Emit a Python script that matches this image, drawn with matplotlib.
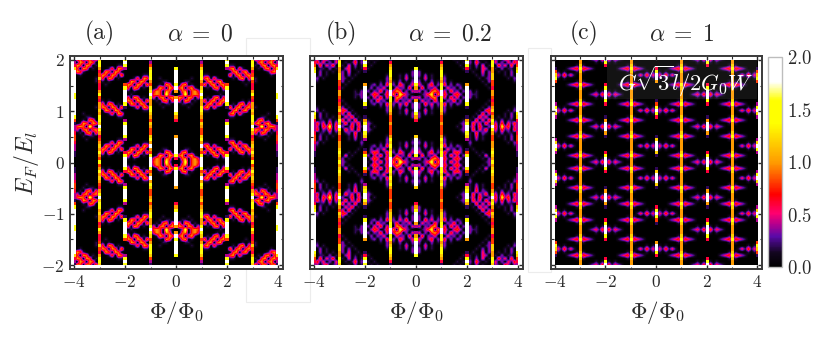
import numpy as np
import matplotlib
matplotlib.use("Agg")
import matplotlib.pyplot as plt
from matplotlib.colors import LinearSegmentedColormap
from matplotlib.patches import Rectangle
from matplotlib.ticker import MultipleLocator, FixedLocator, FixedFormatter

plt.rcParams['mathtext.fontset'] = 'cm'
plt.rcParams['font.family'] = ['cmr10', 'DejaVu Serif']
plt.rcParams['axes.unicode_minus'] = False

# conductance, one quadrant per panel (Phi 0..4, E_F 2..0)
# digit d = 0.2*d, a = 2.0; columns 0, 8, 16, 24, 32 are the narrow vertical features
panel_a_rows = [
 "0 0000000 1 0000000 8 0000000 6 5045045 1",
 "0 0000000 2 0000000 a 0000000 7 0450450 2",
 "0 0000000 4 0000000 8 1100000 7 1045045 3",
 "7 0000000 6 0000000 2 4504100 5 0104504 6",
 "a 0000000 8 0000000 0 0450450 3 0000145 9",
 "a 0000000 7 1100000 0 5045045 4 0000010 a",
 "a 0000100 8 4504100 0 0104504 6 1000000 a",
 "a 0011000 5 0450450 0 0000101 4 1000000 a",
 "8 0450100 4 5045045 4 0000010 3 0000000 a",
 "a 4504510 6 0104504 8 0000000 3 0000000 a",
 "5 0450453 8 0000101 a 0000000 5 0000000 9",
 "0 0280454 a 0000010 a 0000000 7 0000000 8",
 "5 5405403 7 0104504 a 0000000 4 0000000 8",
 "a 4054010 5 5045045 9 0000101 3 0000000 a",
 "9 0110100 5 0450450 7 0104504 5 0000000 a",
 "a 0001000 7 4504100 1 5045045 5 1000000 a",
 "a 0000000 8 1100000 0 0450450 6 0000000 a",
 "8 0000000 6 0000000 0 4504100 5 0000100 a",
 "5 0000000 5 0000000 0 1100000 7 0011000 7",
 "3 0000000 4 0000000 2 0000000 8 0450100 4",
 "0 0000000 6 0000000 7 0000000 6 4504510 1",
 "0 0000000 5 0000000 a 0000000 9 0280454 2",
 "0 0000000 4 0000000 a 0000000 7 5405403 2",
 "0 0000000 4 0000000 9 0000000 5 4054010 3",
 "5 0000000 6 0000000 7 0000000 3 0110100 4",
 "a 0000000 8 0000000 2 1100000 4 0001000 4",
 "a 0000000 5 1100000 0 4504100 5 0000000 3",
 "a 0000000 9 4504100 0 0450450 6 0000000 2",
 "a 0011000 5 0450450 0 5045045 5 0000000 2",
 "a 0450100 4 5045045 3 0104504 8 0000000 1",
 "7 4504510 8 0104504 7 0000101 5 0000000 1",
 "3 0450453 9 0000101 9 0000000 4 0000000 0",
 "0 0280454 a 0000000 a 0000000 7 0000000 0",
]
panel_b_rows = [
 "0 0000000 1 0001010 8 1020100 6 2104202 2",
 "0 0000000 3 0000101 a 2041010 7 3020314 3",
 "0 0000000 5 0000010 7 1020301 7 0413040 4",
 "8 0000000 6 0000001 3 1010320 5 1020110 6",
 "a 2000000 7 0000000 1 0100302 5 0101020 8",
 "a 2020100 7 1000000 0 0010202 6 0001020 9",
 "a 1030100 6 2000000 0 0001012 6 0000102 a",
 "a 2010201 5 2010000 0 0000102 4 0000001 a",
 "7 3102402 7 4020210 5 0000010 4 0000000 a",
 "5 0402130 8 0312020 9 0000001 3 0000000 a",
 "2 3020453 9 3041202 a 2010000 5 0000000 a",
 "0 0124705 a 4103420 a 2110000 5 0000000 9",
 "2 3021450 8 3041302 a 2010000 4 0000000 a",
 "5 0312041 7 0214020 9 0000001 3 0000000 a",
 "a 2041302 6 4020210 7 0000010 4 0000000 a",
 "a 2010201 6 2010000 1 0000102 5 0000001 a",
 "a 1030100 6 2000000 0 0001034 6 0000102 a",
 "8 2020100 5 1000000 0 0010403 4 0001020 8",
 "5 2000000 4 0000000 1 0104130 5 0101020 6",
 "3 0000000 4 0000001 5 1040304 7 1020110 3",
 "0 0000000 5 0000012 8 0413041 6 3040314 2",
 "0 0000000 4 0000102 a 1304102 a 4072403 2",
 "0 0000000 4 0000012 a 0403140 7 3041204 2",
 "0 0000000 4 0000001 8 1040210 5 1020110 3",
 "6 0000000 5 1000000 6 1030100 4 0101020 4",
 "a 1000000 7 2000000 2 1020100 4 0001020 4",
 "a 2020100 6 2010000 0 2000000 5 0000102 3",
 "a 1030100 8 4020210 0 1000000 5 0000001 2",
 "a 2010201 6 0312020 1 0100000 6 0000000 2",
 "a 3102402 7 4103420 4 0010100 8 0000000 1",
 "7 0402130 8 3041302 7 0001030 6 0000000 1",
 "2 3020453 9 4103420 9 0000102 5 0000000 0",
 "0 0124805 a 3041301 a 0000012 7 0000000 0",
]
panel_c_rows = [
 "0 0000000 5 0012314 a 4132100 5 0000000 0",
 "0 0000000 5 0000101 8 1010000 5 0000000 0",
 "0 0000001 6 1000000 3 0000001 6 1000000 0",
 "3 0001234 8 4321000 0 0001234 8 4321000 1",
 "7 1010001 6 1000000 0 0000001 6 1000101 4",
 "a 3141310 5 0000000 0 0000000 5 0131413 6",
 "a 1010000 5 0000000 0 0000000 5 0000101 8",
 "5 0000001 5 1000000 0 0000001 5 1000000 4",
 "0 0001234 8 4321000 3 0001234 8 4321000 0",
 "0 0000001 6 1000000 7 0000001 6 1000000 0",
 "0 0000000 5 0000101 a 1010000 5 0000000 0",
 "0 0000000 5 0012314 a 4132100 5 0000000 0",
 "0 0000000 5 0000101 a 1010000 5 0000000 0",
 "1 0000001 6 1000000 7 0000001 6 1000000 0",
 "4 0001234 8 4321000 3 0001234 8 4321000 2",
 "8 1010001 5 1000000 0 0000001 5 1000101 7",
 "a 3141310 5 0000000 0 0000000 5 0131413 a",
 "8 1010000 5 0000000 0 0000000 5 0000101 6",
 "3 0000001 6 1000000 1 0000001 6 1000000 2",
 "0 0001234 8 4321000 5 0001234 8 4321000 0",
 "0 0000001 5 1000101 a 1010001 5 1000000 0",
 "0 0000000 5 0012314 a 4132100 5 0000000 0",
 "0 0000000 5 0000101 a 1010000 5 0000000 0",
 "0 0000001 6 1000000 5 0000001 6 1000000 0",
 "1 0001234 8 4321000 1 0001234 8 4321000 0",
 "6 0000001 5 1000000 0 0000001 5 1000000 2",
 "a 1010000 5 0000000 0 0000000 5 0000101 6",
 "a 3141310 5 0000000 0 0000000 5 0131413 a",
 "a 1010000 5 0000000 0 0000000 5 0000101 7",
 "6 0000001 6 1000000 3 0000001 6 1000000 2",
 "1 0001234 8 4321000 7 0001234 8 4321000 0",
 "0 0000001 5 1000101 a 1010001 5 1000000 0",
 "0 0000000 5 0012314 a 4132100 5 0000000 0",
]
panel_tags = ["(a)", "(b)", "(c)"]
panel_alphas = [r"$\alpha\;=\;0$", r"$\alpha\;=\;0.2$", r"$\alpha\;=\;1$"]
x_tick_values = [-4, -2, 0, 2, 4]
y_tick_values = [-2, -1, 0, 1, 2]
cbar_tick_values = [0.0, 0.5, 1.0, 1.5, 2.0]

W, H = 831, 340
INK = '#2a2a2a'


def quadrant_to_full(rows):
    q = np.array([[2.0 if ch == 'a' else int(ch) * 0.2 for ch in r.replace(' ', '')] for r in rows])
    top = np.hstack([q[:, :0:-1], q])
    return np.vstack([top, top[-2::-1]])


def px_axes(left, right, top, bottom):
    return [left / W, 1 - bottom / H, (right - left) / W, (bottom - top) / H]


def ptxt(x, y, s, **kw):
    kw.setdefault('color', INK)
    kw.setdefault('ha', 'center')
    kw.setdefault('va', 'center')
    fig.text(x / W, 1 - y / H, s, **kw)


cmap = LinearSegmentedColormap.from_list('cond', [
    (0.0, '#000000'), (0.13 / 2, '#12061e'), (0.29 / 2, '#5a0aa8'), (0.40 / 2, '#b0008f'),
    (0.51 / 2, '#ff0070'), (0.69 / 2, '#ff0000'), (0.99 / 2, '#ff9900'), (1.37 / 2, '#ffff00'),
    (1.59 / 2, '#ffff00'), (1.77 / 2, '#ffffff'), (1.0, '#ffffff')])

fig = plt.figure(figsize=(W / 100, H / 100), dpi=100)

# faint leftover frames behind the panels
for (l, t, r, b) in [(246.5, 38, 309.5, 302), (527.5, 47.5, 550.5, 272)]:
    fig.add_artist(Rectangle((l / W, 1 - b / H), (r - l) / W, (b - t) / H, transform=fig.transFigure,
                             fill=False, edgecolor='#ececec', linewidth=0.8, zorder=-5))

frames = [(70, 283), (310, 522.7), (551, 762)]
data = [panel_a_rows, panel_b_rows, panel_c_rows]
tag_x = [100, 341, 584]
alpha_x = [200, 450, 682]
label_x = [176, 416, 657]
line_cols = np.arange(0, 65, 8)
dx, dy = 4 / 32, 2 / 32
im = None
for i, (frame, rows) in enumerate(zip(frames, data)):
    ax = fig.add_axes(px_axes(frame[0], frame[1], 56, 268.7))
    full = quadrant_to_full(rows)
    extent = (-4 - dx / 2, 4 + dx / 2, -2 - dy / 2, 2 + dy / 2)
    # speckle: soft; narrow vertical features: crisp overlay
    base = full.copy()
    base[:, line_cols] = 0
    im = ax.imshow(base, cmap=cmap, vmin=0, vmax=2, aspect='auto', interpolation='bilinear',
                   extent=extent, origin='upper')
    mask = np.ones(full.shape, dtype=bool)
    mask[:, line_cols] = False
    overlay = np.ma.array(full, mask=mask | (full == 0))
    im2 = ax.imshow(overlay, cmap=cmap, vmin=0, vmax=2, aspect='auto', interpolation='nearest',
                    extent=extent, origin='upper')
    clip = Rectangle((-4, -2), 8, 4, transform=ax.transData)
    im.set_clip_path(clip)
    im2.set_clip_path(clip)
    ax.set_xlim(-4.157, 4.196)
    ax.set_ylim(-2.072, 2.078)
    ax.xaxis.set_major_locator(FixedLocator(x_tick_values))
    ax.xaxis.set_major_formatter(FixedFormatter([f"${v}$" for v in x_tick_values]))
    ax.xaxis.set_minor_locator(MultipleLocator(1))
    ax.yaxis.set_major_locator(FixedLocator(y_tick_values))
    ax.yaxis.set_major_formatter(FixedFormatter([f"${v}$" for v in y_tick_values]))
    ax.yaxis.set_minor_locator(MultipleLocator(0.5))
    ax.tick_params(which='major', direction='in', length=3.2, width=1.0, top=True, right=True,
                   color=INK, labelcolor=INK, labelsize=12.5, pad=4, labelleft=(i == 0))
    ax.tick_params(which='minor', direction='in', length=1.8, width=0.8, top=True, right=True, color=INK)
    for s in ax.spines.values():
        s.set_linewidth(1.4)
        s.set_color('#3a3a3a')
    ptxt(tag_x[i], 33, panel_tags[i], fontsize=17)
    ptxt(alpha_x[i], 34.5, panel_alphas[i], fontsize=17)
    ptxt(label_x[i], 312, r"$\Phi/\Phi_0$", fontsize=16.5)
    if i == 2:
        ax.add_patch(Rectangle((-1.95, 1.24), 5.95, 0.76, facecolor='white', alpha=0.08, edgecolor='none', zorder=3))
        ax.text(1.17, 1.58, r"$G\sqrt{3}l/2G_0W$", color='white', fontsize=16.3, ha='center', va='center', zorder=4)

ptxt(27, 163, r"$E_F/E_l$", fontsize=17, rotation=90)

cax = fig.add_axes(px_axes(768, 782, 57.3, 267))
cb = fig.colorbar(im, cax=cax, ticks=cbar_tick_values)
cb.ax.set_yticklabels([f"${v:.1f}$" for v in cbar_tick_values])
cb.ax.tick_params(length=0, pad=3.5, labelsize=13.5, labelcolor=INK)
cb.outline.set_edgecolor('#bdbdbd')
cb.outline.set_linewidth(1.0)

fig.savefig('out.png', dpi=100)
